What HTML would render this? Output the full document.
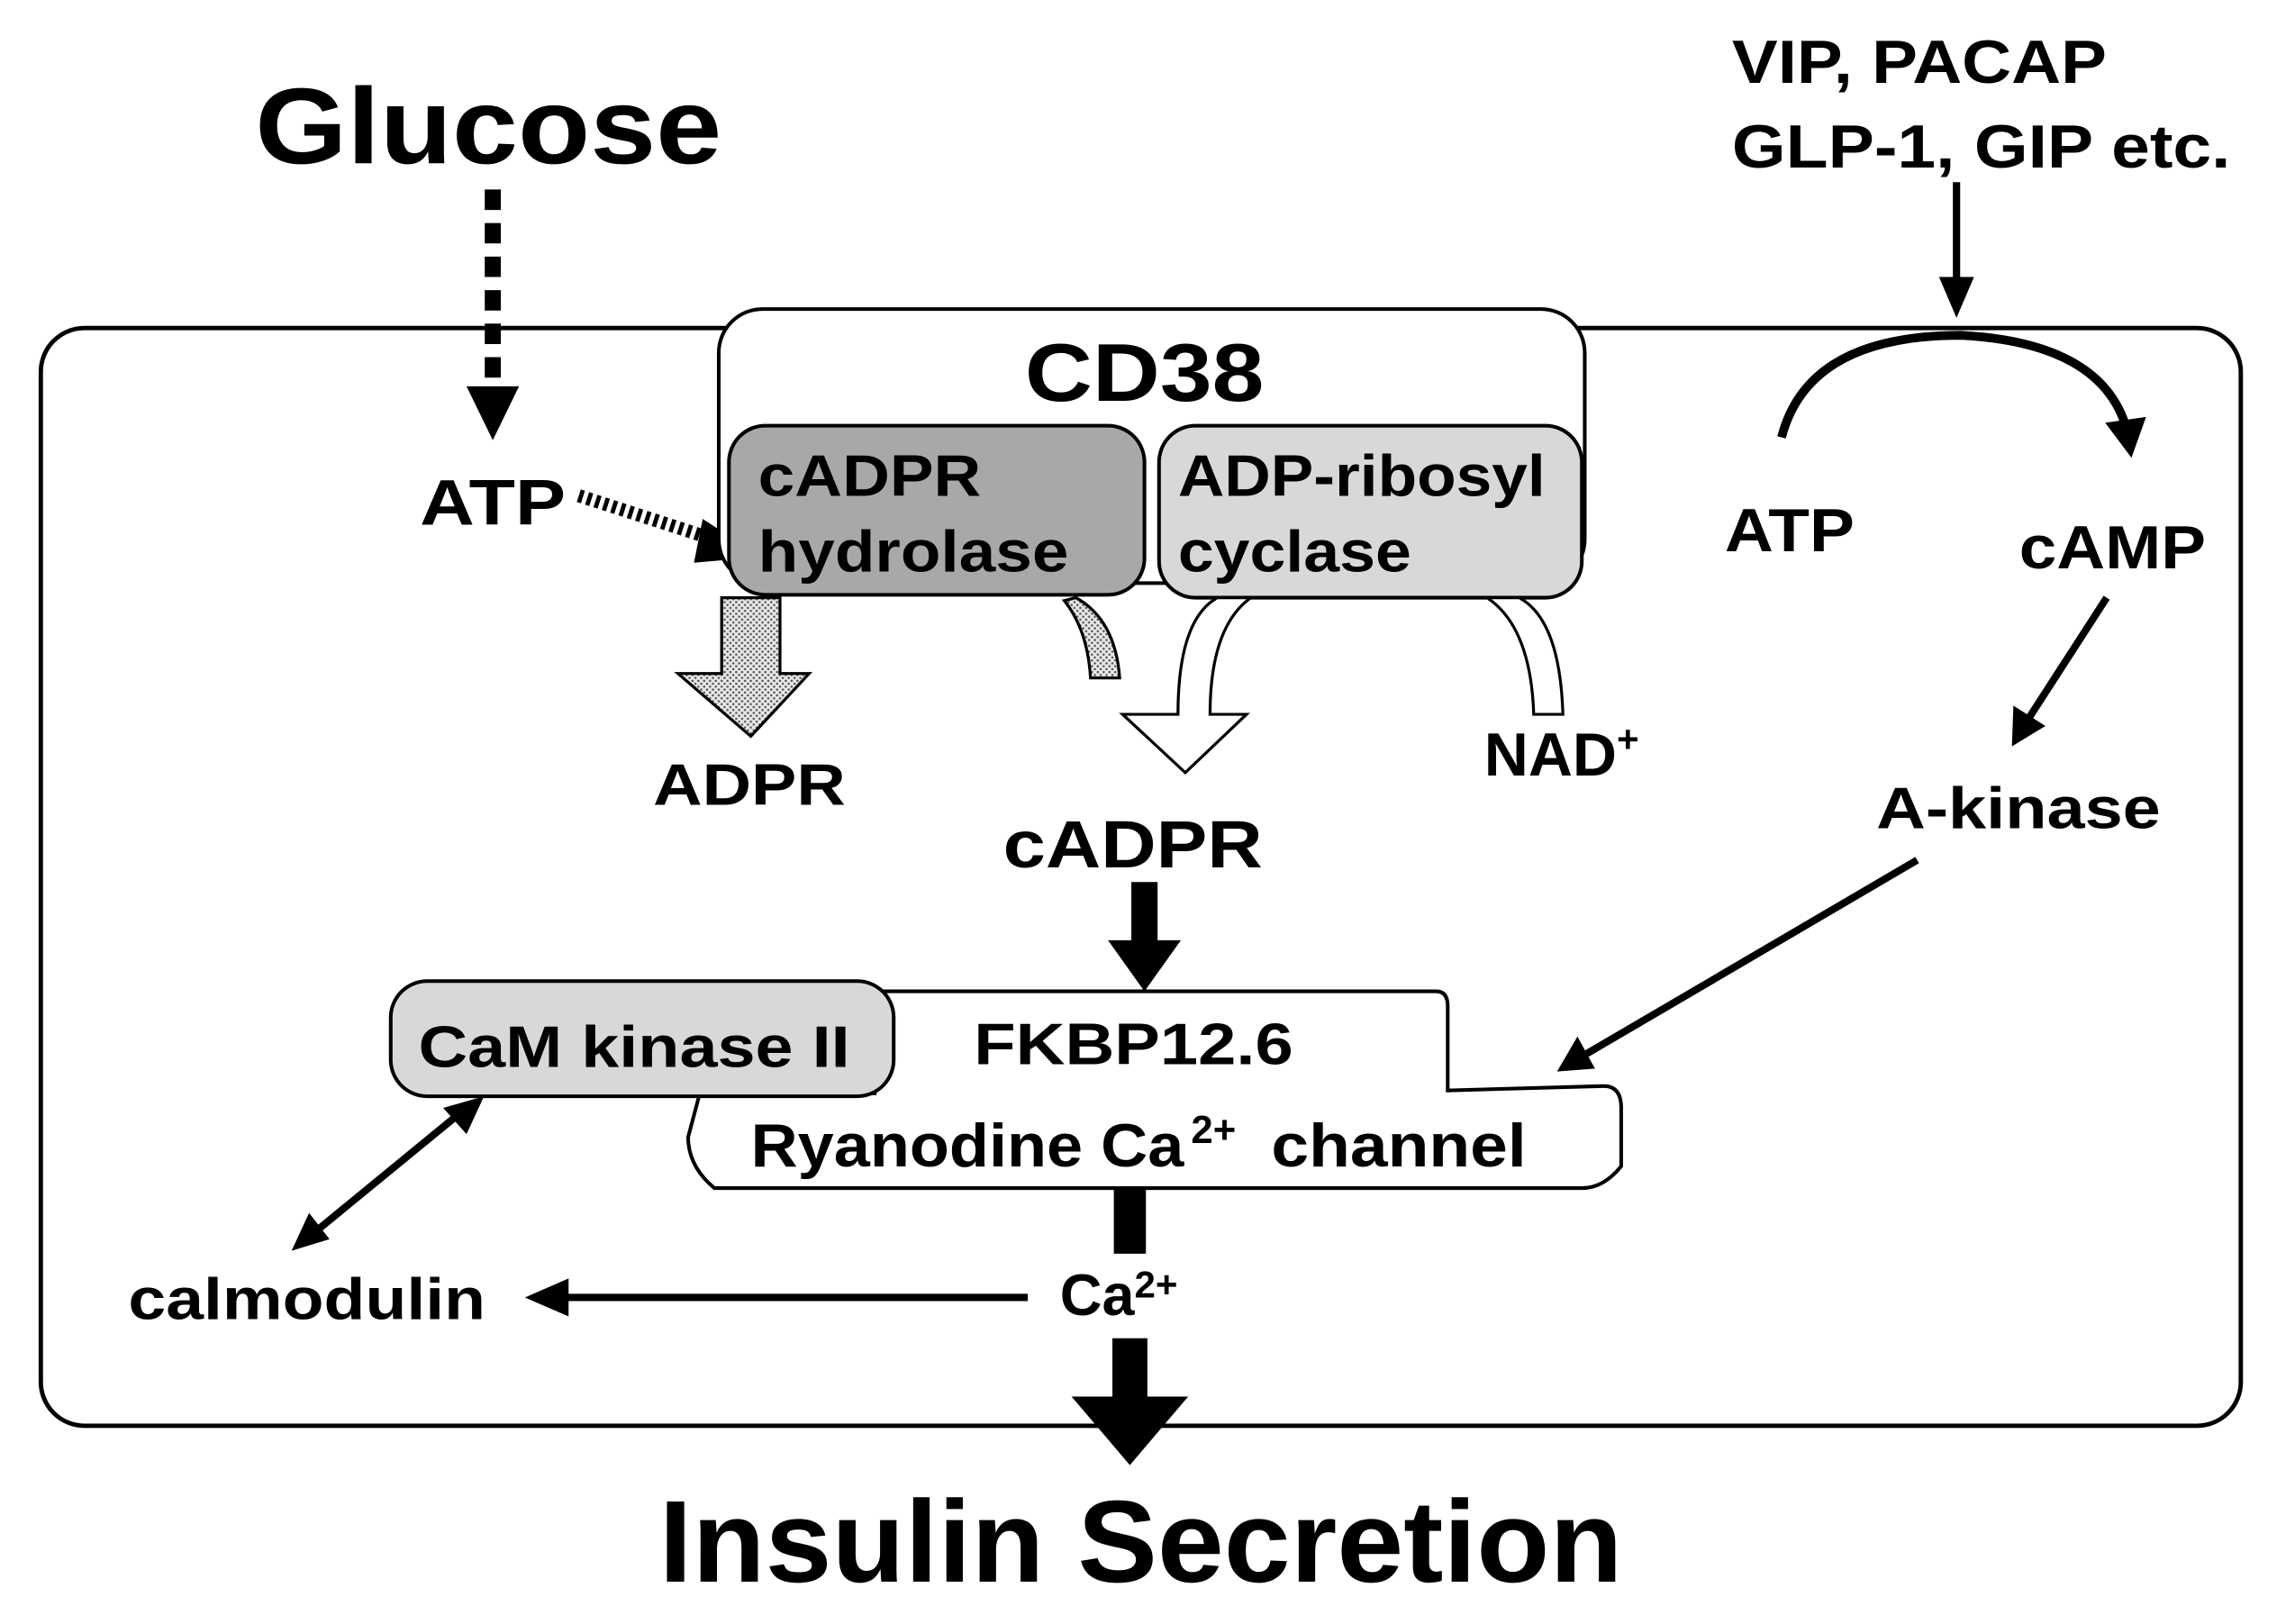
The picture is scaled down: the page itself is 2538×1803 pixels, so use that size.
<!DOCTYPE html>
<html><head><meta charset="utf-8"><style>
html,body{margin:0;padding:0;background:#fff;}
svg{display:block;}
text{font-family:"Liberation Sans",Arial,sans-serif;font-weight:bold;fill:#000;}
</style></head><body>
<svg width="2538" height="1803" viewBox="0 0 1568 1114" preserveAspectRatio="none" xmlns="http://www.w3.org/2000/svg">
<defs>
<pattern id="dots" width="4" height="4" patternUnits="userSpaceOnUse">
<rect width="4" height="4" fill="#e8e8e8"/><circle cx="1" cy="1" r="0.8" fill="#555"/><circle cx="3" cy="3" r="0.8" fill="#555"/>
</pattern>
</defs>
<rect x="28" y="225" width="1509" height="753" rx="30" fill="#fff" stroke="#000" stroke-width="3"/>
<text x="175" y="112" font-size="74" textLength="320" lengthAdjust="spacingAndGlyphs">Glucose</text>
<line x1="338" y1="130" x2="338" y2="268" stroke="#000" stroke-width="11" stroke-dasharray="14,9"/>
<polygon points="320,265 356,265 338,302" fill="#000"/>
<text x="288" y="360" font-size="44" textLength="100" lengthAdjust="spacingAndGlyphs">ATP</text>
<line x1="397" y1="340" x2="490" y2="370" stroke="#000" stroke-width="9" stroke-dasharray="3,3"/>
<polygon points="482,356 522,382 476,386" fill="#000"/>
<rect x="493" y="212" width="594" height="188" rx="30" fill="#fff" stroke="#000" stroke-width="2.5"/>
<text x="703" y="275" font-size="56" textLength="164" lengthAdjust="spacingAndGlyphs">CD38</text>
<rect x="500" y="292" width="285" height="116" rx="25" fill="#a8a8a8" stroke="#000" stroke-width="2.5"/>
<text x="520" y="340" font-size="40" textLength="153" lengthAdjust="spacingAndGlyphs">cADPR</text>
<text x="520" y="392" font-size="40" textLength="213" lengthAdjust="spacingAndGlyphs">hydrolase</text>
<rect x="795" y="292" width="290" height="118" rx="25" fill="#d8d8d8" stroke="#000" stroke-width="2.5"/>
<text x="808" y="340" font-size="40" textLength="252" lengthAdjust="spacingAndGlyphs">ADP-ribosyl</text>
<text x="808" y="392" font-size="40" textLength="160" lengthAdjust="spacingAndGlyphs">cyclase</text>
<path d="M495,410 L535,410 L535,462 L555,462 L515,505 L465,462 L495,462 Z" fill="url(#dots)" stroke="#000" stroke-width="2"/>
<path d="M738,410 Q765,425 768,465 L748,465 Q746,432 730,412 Z" fill="url(#dots)" stroke="#000" stroke-width="2"/>
<text x="448" y="552" font-size="40" textLength="132" lengthAdjust="spacingAndGlyphs">ADPR</text>
<path d="M858,410 Q830,430 830,490 L855,490 L813,530 L770,490 L808,490 Q808,425 835,410 Z" fill="#fff" stroke="#000" stroke-width="2"/>
<path d="M1020,410 Q1050,430 1052,490 L1072,490 Q1070,425 1042,410 Z" fill="#fff" stroke="#000" stroke-width="2"/>
<text x="1018" y="532" font-size="42">NAD<tspan font-size="26" dy="-16">+</tspan></text>
<text x="688" y="595" font-size="46" textLength="178" lengthAdjust="spacingAndGlyphs">cADPR</text>
<line x1="785" y1="605" x2="785" y2="650" stroke="#000" stroke-width="18"/>
<polygon points="760,645 810,645 785,680" fill="#000"/>
<path d="M600,680 L985,680 Q993,680 993,690 L993,748 L1100,745 Q1112,745 1112,760 L1112,800 Q1100,815 1085,815 L490,815 Q472,800 472,780 L480,750 L600,750 Z" fill="#fff" stroke="#000" stroke-width="2.5"/>
<rect x="268" y="673" width="345" height="79" rx="25" fill="#d8d8d8" stroke="#000" stroke-width="2.5"/>
<text x="287" y="732" font-size="40" textLength="296" lengthAdjust="spacingAndGlyphs">CaM kinase II</text>
<text x="668" y="730" font-size="40" textLength="219" lengthAdjust="spacingAndGlyphs">FKBP12.6</text>
<text x="515" y="800" font-size="42" textLength="297" lengthAdjust="spacingAndGlyphs">Ryanodine Ca</text>
<text x="817" y="784" font-size="27">2+</text>
<text x="872" y="800" font-size="42" textLength="175" lengthAdjust="spacingAndGlyphs">channel</text>
<line x1="775" y1="815" x2="775" y2="860" stroke="#000" stroke-width="22"/>
<text x="727" y="902" font-size="40">Ca<tspan font-size="26" dy="-12">2+</tspan></text>
<line x1="775" y1="918" x2="775" y2="962" stroke="#000" stroke-width="24"/>
<polygon points="735,958 815,958 775,1005" fill="#000"/>
<text x="452" y="1085" font-size="80" textLength="661" lengthAdjust="spacingAndGlyphs">Insulin Secretion</text>
<text x="88" y="905" font-size="40" textLength="245" lengthAdjust="spacingAndGlyphs">calmodulin</text>
<line x1="705" y1="890" x2="385" y2="890" stroke="#000" stroke-width="5"/>
<polygon points="360,890 390,877 390,903" fill="#000"/>
<line x1="215" y1="846" x2="315" y2="764" stroke="#000" stroke-width="5"/>
<polygon points="200,858 212,832 226,850" fill="#000"/>
<polygon points="332,752 304,760 320,778" fill="#000"/>
<text x="1188" y="57" font-size="42" textLength="257" lengthAdjust="spacingAndGlyphs">VIP, PACAP</text>
<text x="1188" y="115" font-size="42" textLength="342" lengthAdjust="spacingAndGlyphs">GLP-1, GIP etc.</text>
<line x1="1342" y1="125" x2="1342" y2="195" stroke="#000" stroke-width="5"/>
<polygon points="1330,190 1354,190 1342,218" fill="#000"/>
<path d="M1222,300 Q1240,230 1345,230 Q1440,235 1458,292" fill="none" stroke="#000" stroke-width="6"/>
<polygon points="1444,290 1472,286 1462,314" fill="#000"/>
<text x="1183" y="378" font-size="42" textLength="89" lengthAdjust="spacingAndGlyphs">ATP</text>
<text x="1385" y="390" font-size="42" textLength="128" lengthAdjust="spacingAndGlyphs">cAMP</text>
<line x1="1445" y1="410" x2="1392" y2="492" stroke="#000" stroke-width="5"/>
<polygon points="1380,512 1381,484 1403,498" fill="#000"/>
<text x="1287" y="568" font-size="40" textLength="195" lengthAdjust="spacingAndGlyphs">A-kinase</text>
<line x1="1315" y1="590" x2="1088" y2="723" stroke="#000" stroke-width="5"/>
<polygon points="1068,735 1082,711 1094,733" fill="#000"/>
</svg>
</body></html>
